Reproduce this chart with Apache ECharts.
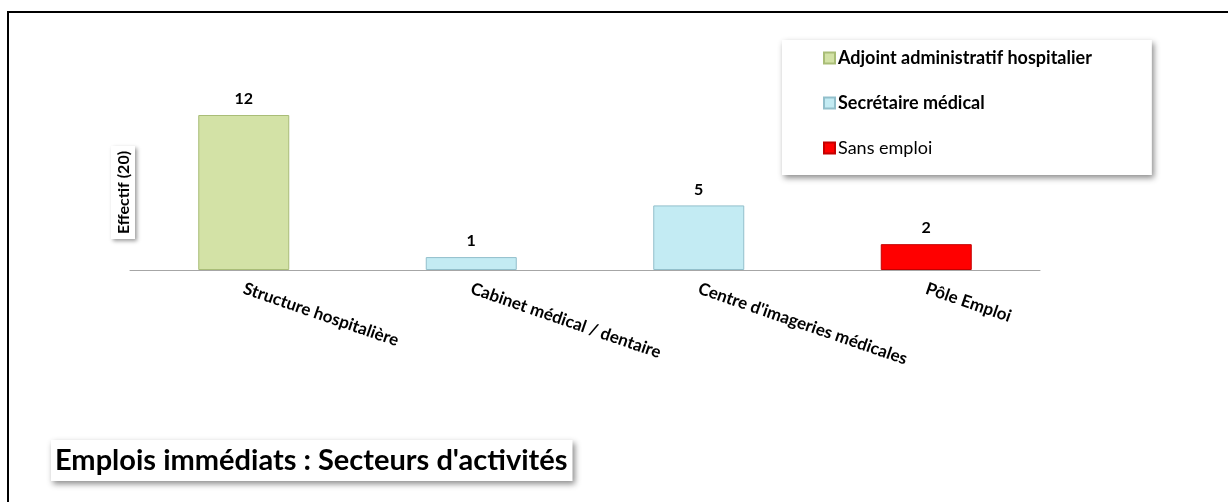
<!DOCTYPE html>
<html>
	<head>
		<meta charset="utf-8">
		<script src="https://cdn.jsdelivr.net/npm/echarts@6/dist/echarts.min.js"></script>
		<title>Emplois immédiats</title>
		<style>
			html, body { margin: 0; padding: 0; background: #fff; overflow: hidden; }
			#frame { position: absolute; left: 7px; top: 11px; right: 0; bottom: 0;
				border-top: 2px solid #000; border-left: 2px solid #000; }
			#main { position: absolute; left: 0; top: 0; width: 1228px; height: 502px; }
		</style>
	</head>
	<body>
		<div id="frame"></div>
		<div id="main"></div>
		<script type="text/javascript">
			var categories = ['Structure hospitalière', 'Cabinet médical / dentaire', "Centre d'imageries médicales", 'Pôle Emploi'];
			var seriesNames = ['Adjoint administratif hospitalier', 'Secrétaire médical', 'Sans emploi'];
			var adjointValues = [12, '-', '-', '-'];
			var secretaireValues = ['-', 1, 5, '-'];
			var sansEmploiValues = ['-', '-', '-', 2];

			var font = 'Lato, "Open Sans", sans-serif';

			function bar(name, data, color, border) {
				return {
					name: name,
					type: 'bar',
					stack: 'all',
					barWidth: '40%',
					data: data,
					itemStyle: { color: color, borderColor: border, borderWidth: 1 },
					label: {
						show: true,
						position: 'top',
						distance: 8,
						color: '#000',
						fontFamily: font,
						fontWeight: 'bold',
						fontSize: 16
					}
				};
			}

			var myChart = echarts.init(document.getElementById('main'));
			myChart.setOption({
				backgroundColor: 'transparent',
				animation: false,
				grid: { left: 130, right: 188, top: 115, bottom: 232 },
				title: {
					text: "Emplois immédiats : Secteurs d'activités",
					left: 51,
					top: 440,
					padding: [6, 5, 6, 4],
					backgroundColor: '#fff',
					shadowBlur: 6,
					shadowColor: 'rgba(0,0,0,0.45)',
					shadowOffsetX: 2,
					shadowOffsetY: 3,
					textStyle: { fontFamily: font, fontSize: 29, fontWeight: 'bold', color: '#000' }
				},
				legend: {
					orient: 'vertical',
					left: 782,
					top: 40,
					padding: [9, 60, 18, 41],
					itemGap: 27,
					itemWidth: 11,
					itemHeight: 11,
					backgroundColor: '#fff',
					shadowBlur: 6,
					shadowColor: 'rgba(0,0,0,0.45)',
					shadowOffsetX: 2,
					shadowOffsetY: 3,
					textStyle: { fontFamily: font, fontSize: 18, color: '#000', padding: [0, 0, 0, -2] },
					data: [
						{ name: seriesNames[0], icon: 'rect', textStyle: { fontWeight: 'bold' } },
						{ name: seriesNames[1], icon: 'rect', textStyle: { fontWeight: 'bold' } },
						{ name: seriesNames[2], icon: 'rect', textStyle: { fontWeight: 'normal' } }
					]
				},
				xAxis: {
					type: 'category',
					data: categories,
					axisLine: { lineStyle: { color: '#a6a6a6', width: 1 } },
					axisTick: { show: false },
					axisLabel: {
						interval: 0,
						rotate: -19,
						margin: 18,
						color: '#000',
						fontFamily: font,
						fontWeight: 'bold',
						fontSize: 17
					}
				},
				yAxis: {
					type: 'value',
					min: 0,
					max: 12,
					axisLine: { show: false },
					axisTick: { show: false },
					axisLabel: { show: false },
					splitLine: { show: false },
					name: 'Effectif (20)',
					nameLocation: 'middle',
					nameRotate: 90,
					nameGap: -5,
					nameTextStyle: {
						fontFamily: font,
						fontWeight: 'bold',
						fontSize: 16,
						color: '#000',
						backgroundColor: '#fff',
						padding: [5, 5, 3, 5],
						shadowBlur: 4,
						shadowColor: 'rgba(0,0,0,0.4)',
						shadowOffsetX: 2,
						shadowOffsetY: 2
					}
				},
				series: [
					bar(seriesNames[0], adjointValues, '#d3e2a6', '#a9bd77'),
					bar(seriesNames[1], secretaireValues, '#c3ebf3', '#92bfcb'),
					bar(seriesNames[2], sansEmploiValues, '#ff0000', '#c40000')
				]
			});
		</script>
	</body>
</html>
